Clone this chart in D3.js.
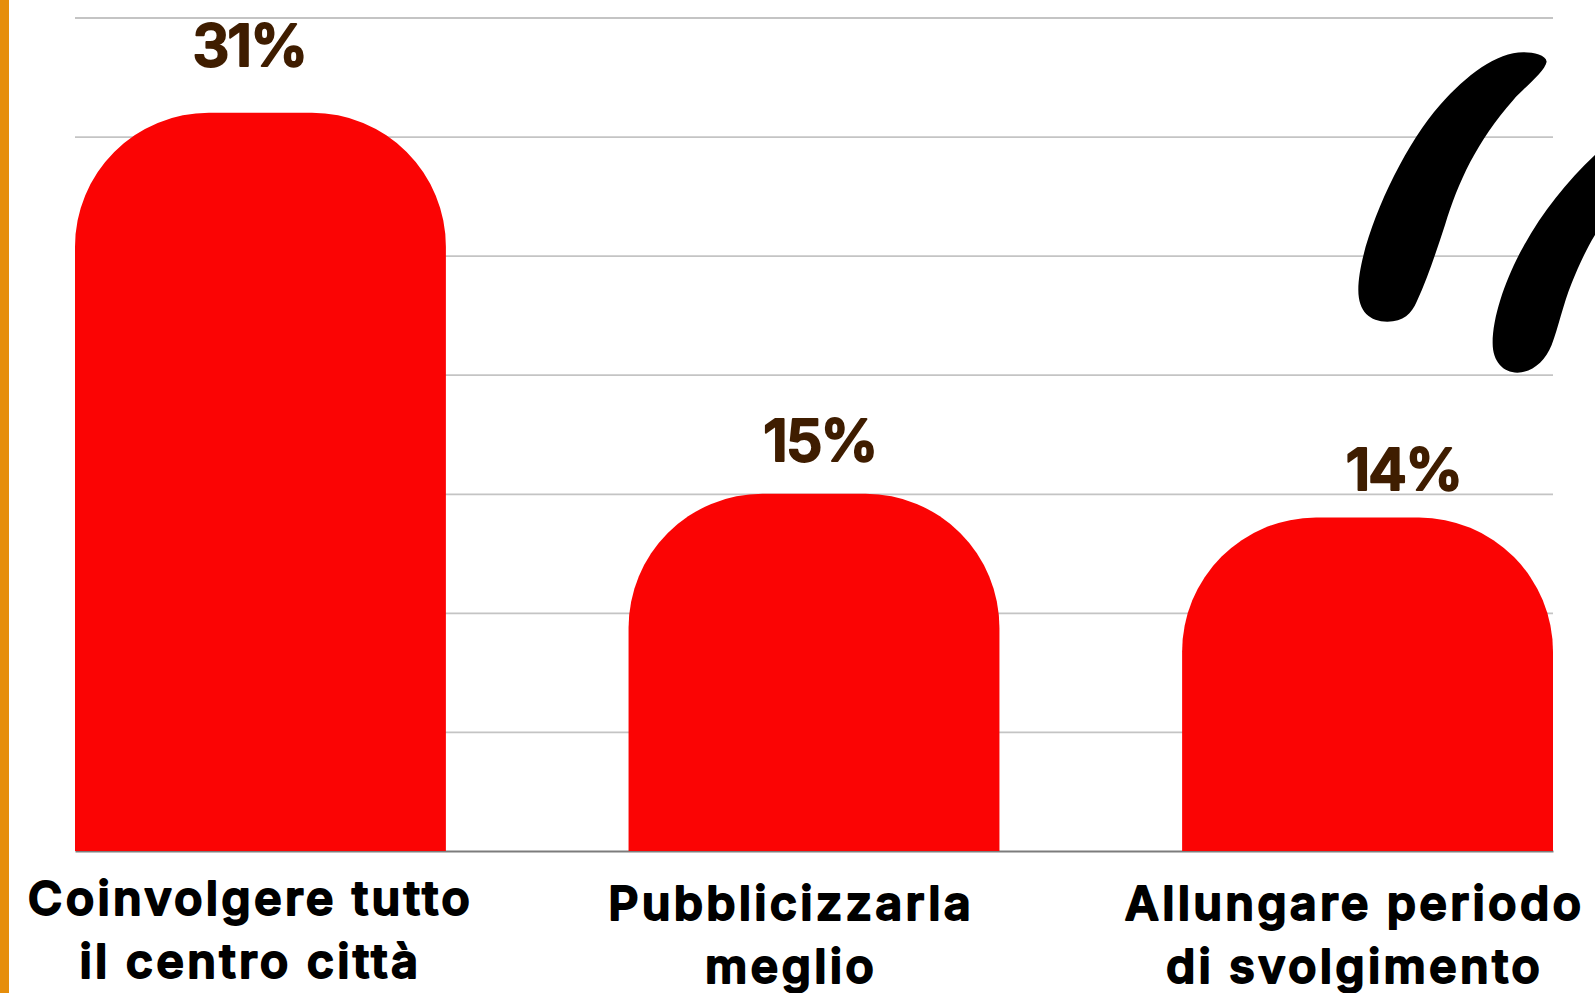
<!DOCTYPE html>
<html>
<head>
<meta charset="utf-8">
<script src="https://cdn.jsdelivr.net/npm/d3@7"></script>
<style>
html, body { margin: 0; padding: 0; background: #fff; overflow: hidden; }
svg { display: block; }
.cat { font-family: Inter, sans-serif; font-weight: 600; font-size: 47px; letter-spacing: 3.2px; fill: #000; stroke: #000; stroke-width: 1.8px; stroke-linejoin: round; text-anchor: middle; }
.val { font-family: Inter, sans-serif; font-weight: 600; font-size: 58px; letter-spacing: -2px; fill: #3f1d00; stroke: #3f1d00; stroke-width: 2px; stroke-linejoin: round; text-anchor: middle; }
</style>
</head>
<body>
<svg class="myChart" width="1595" height="993"></svg>
<script>
const categories = ["Coinvolgere tutto|il centro città", "Pubblicizzarla|meglio", "Allungare periodo|di svolgimento"];
const values = [31, 15, 14];
const yTicks = [0, 5, 10, 15, 20, 25, 30, 35];

const svg = d3.select('svg.myChart');
const margin = {top: 17.5, left: 75, right: 42, bottom: 142};
const width = 1595, height = 993;
const radius = 134;

// labels in the original are placed by hand, not on the bar centres
const catDx = [-10, -23, -13], catY = [915, 920, 920];
const valDx = [-11, 6, 36], valDy = [-47, -33, -28];

const x = d3.scaleBand().domain(categories).range([margin.left, width - margin.right]).paddingInner(0.33);
const y = d3.scaleLinear().domain([0, 35]).range([height - margin.bottom, margin.top]);

svg.append('rect').attr('width', 9).attr('height', height).attr('fill', '#e68e0b');

const grid = svg.append('g')
	.attr('transform', `translate(${margin.left},0)`)
	.call(d3.axisLeft(y).tickValues(yTicks.slice(1)).tickSize(-(width - margin.left - margin.right)).tickFormat(''));
grid.select('.domain').remove();
grid.selectAll('line').attr('stroke', '#c4c4c4').attr('stroke-width', 1.8);

const base = svg.append('g')
	.attr('transform', `translate(0,${y(0)})`)
	.call(d3.axisBottom(x).tickSize(0).tickFormat(''));
base.select('.domain').attr('stroke', '#7c7c7c').attr('stroke-width', 1.8);

// rounded on top only
const barPath = d => {
	const x0 = x(d.cat), x1 = x0 + x.bandwidth(), y0 = y(0), y1 = y(d.v);
	return `M${x0},${y0}V${y1 + radius}A${radius},${radius} 0 0 1 ${x0 + radius},${y1}H${x1 - radius}A${radius},${radius} 0 0 1 ${x1},${y1 + radius}V${y0}Z`;
};
const rows = categories.map((cat, i) => ({cat, v: values[i], i}));

svg.selectAll('path.bar').data(rows).enter().append('path')
	.attr('class', 'bar')
	.attr('d', barPath)
	.attr('fill', '#fb0404');

svg.selectAll('text.val').data(rows).enter().append('text')
	.attr('class', 'val')
	.attr('x', d => x(d.cat) + x.bandwidth() / 2 + valDx[d.i])
	.attr('y', d => y(d.v) + valDy[d.i])
	.text(d => d.v + '%');

const cats = svg.selectAll('text.cat').data(rows).enter().append('text')
	.attr('class', 'cat')
	.attr('y', d => catY[d.i]);
cats.selectAll('tspan').data(d => d.cat.split('|').map((t, j) => ({t, j, d}))).enter().append('tspan')
	.attr('x', l => x(l.d.cat) + x.bandwidth() / 2 + catDx[l.d.i])
	.attr('dy', l => l.j ? 63 : 0)
	.text(l => l.t);

// big quote marks (zoomed 3x coordinates)
const quote = svg.append('g').attr('transform', 'translate(1300,0) scale(0.3333)').attr('fill', '#000');
quote.append('path').attr('d', 'M740,185 C738,165 700,157 670,157 C590,157 500,225 420,315 C300,450 175,730 175,870 C175,935 210,965 262,965 C310,965 335,940 350,905 C385,830 410,750 435,675 C475,545 530,425 640,300 C670,265 735,215 740,185 Z');
quote.append('path').attr('d', 'M885,465 C800,545 725,640 670,740 C620,830 578,945 578,1030 C578,1085 610,1118 652,1118 C695,1118 735,1085 755,1035 C775,985 790,910 815,850 C835,800 860,745 885,705 L960,600 L960,400 Z');
</script>
</body>
</html>
